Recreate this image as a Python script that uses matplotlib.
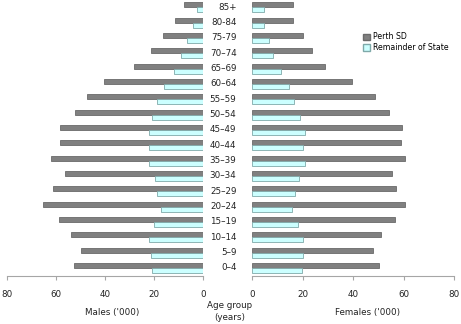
import matplotlib
matplotlib.use('Agg')
import matplotlib.pyplot as plt
import matplotlib.patches as mpatches
import numpy as np

# ---- data (thousands), index 0 = '0–4' ----
age_groups = ['0–4', '5–9', '10–14', '15–19', '20–24', '25–29', '30–34',
              '35–39', '40–44', '45–49', '50–54', '55–59', '60–64',
              '65–69', '70–74', '75-79', '80-84', '85+']
males_perth = [52.8, 50.0, 54.0, 58.9, 65.3, 61.3, 56.3, 61.9, 58.4, 58.4,
               52.2, 47.6, 40.4, 28.2, 21.2, 16.6, 11.4, 7.8]
males_rest = [20.8, 21.2, 22.0, 20.0, 17.1, 18.8, 19.6, 22.3, 22.3, 22.0,
              21.1, 18.8, 15.9, 12.1, 9.0, 6.8, 4.3, 2.7]
females_perth = [50.0, 47.8, 50.8, 56.4, 60.3, 56.8, 55.3, 60.3, 58.8, 59.2,
                 54.1, 48.5, 39.5, 28.8, 23.5, 20.0, 16.0, 16.2]
females_rest = [19.6, 20.0, 20.0, 18.0, 15.6, 16.8, 18.4, 20.7, 20.0, 20.7,
                18.8, 16.6, 14.4, 11.2, 8.3, 6.5, 4.8, 4.5]
ticks = [0, 20, 40, 60, 80]

PERTH = '#808080'
PERTH_EC = '#6a6a6a'
REST = '#ccffff'
REST_EC = '#7fa9a9'
AXIS = '#a6a6a6'
FS = 6.3

W, H = 461, 324
fig = plt.figure(figsize=(W / 100, H / 100), dpi=100)
ax_l = fig.add_axes([7 / W, 1 - 276 / H, (203.3 - 7) / W, 276 / H])
ax_r = fig.add_axes([252.3 / W, 1 - 276 / H, (454.3 - 252.3) / W, 276 / H])

y = np.arange(len(age_groups))
bh = 0.32

for ax, perth, rest in [(ax_l, males_perth, males_rest),
                        (ax_r, females_perth, females_rest)]:
    ax.barh(y + bh / 2, perth, height=bh, color=PERTH, edgecolor=PERTH_EC, lw=0.6)
    ax.barh(y - bh / 2, rest, height=bh, color=REST, edgecolor=REST_EC, lw=0.6)
    ax.set_ylim(-0.52, 17.48)
    ax.set_yticks([])
    for s in ['top', 'right', 'left']:
        ax.spines[s].set_visible(False)
    ax.spines['bottom'].set_color(AXIS)
    ax.spines['bottom'].set_linewidth(0.8)
    ax.set_xticks(ticks)
    ax.set_xticklabels([str(t) for t in ticks])
    ax.tick_params(axis='x', colors=AXIS, length=3, width=0.8, labelsize=FS,
                   labelcolor='#222222', pad=7)
    ax.patch.set_alpha(0)

ax_l.set_xlim(80, 0)
ax_r.set_xlim(0, 80)

# age group labels in centre
for i, lab in enumerate(age_groups):
    yy = 1 - (268 - i * 15.35) / H
    fig.text(236.5 / W, yy, lab, ha='right', va='center', fontsize=FS, color='#222222')

fig.text(230 / W, 1 - 305.5 / H, 'Age group', ha='center', va='center', fontsize=FS, color='#222222')
fig.text(230 / W, 1 - 317.5 / H, '(years)', ha='center', va='center', fontsize=FS, color='#222222')
fig.text(112 / W, 1 - 312 / H, "Males ('000)", ha='center', va='center', fontsize=FS, color='#222222')
fig.text(368 / W, 1 - 312 / H, "Females ('000)", ha='center', va='center', fontsize=FS, color='#222222')

# legend
handles = [mpatches.Patch(facecolor=PERTH, edgecolor=PERTH_EC, label='Perth SD'),
           mpatches.Patch(facecolor=REST, edgecolor=REST_EC, label='Remainder of State')]
fig.legend(handles=handles, loc='upper left', bbox_to_anchor=(358 / W, 1 - 27 / H),
           fontsize=5.6, frameon=False, handlelength=0.9, handleheight=0.9,
           handletextpad=0.3, labelspacing=0.25, borderpad=0.2)

fig.savefig('out.png', dpi=100, facecolor='white')
